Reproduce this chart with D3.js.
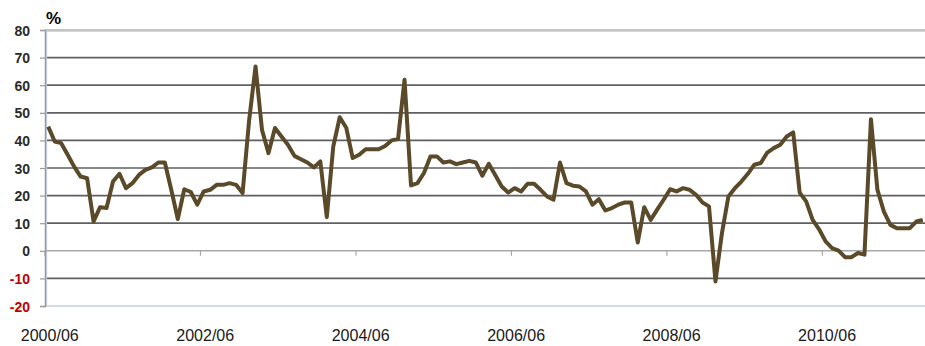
<!DOCTYPE html>
<html><head><meta charset="utf-8">
<script src="https://cdn.jsdelivr.net/npm/d3@7"></script>
<style>html,body{margin:0;padding:0;background:#fff;}svg{display:block;}</style>
</head><body>
<svg id="chart" width="925" height="346"></svg>
<script>
// Monthly values, 2000/06 .. 2011/09 (%)
const values = [
  45, 39.6, 39, 34.8, 30.5, 26.9, 26.3, 10.6, 15.8, 15.5,
  25.1, 27.9, 22.7, 24.5, 27.5, 29.3, 30.2, 32, 32, 22,
  11.5, 22.3, 21.3, 16.7, 21.5, 22.1, 23.9, 23.9, 24.5, 23.9,
  20.9, 47, 66.8, 43.8, 35.4, 44.5, 41.4, 38.4, 34.4, 33.2,
  32, 30.2, 32.4, 12.2, 37.8, 48.4, 44.6, 33.6, 34.8, 36.8,
  36.8, 36.8, 38, 40, 40.5, 62, 23.7, 24.5, 28.2, 34.2,
  34.2, 32, 32.4, 31.4, 32, 32.6, 32, 27.2, 31.5, 27.5,
  23.3, 21.1, 22.7, 21.5, 24.3, 24.3, 22.1, 19.7, 18.5, 32,
  24.5, 23.6, 23.3, 21.5, 16.7, 18.7, 14.6, 15.5, 16.7, 17.5,
  17.5, 3.0, 15.8, 11.2, 14.9, 18.5, 22.3, 21.5, 22.7, 22.1,
  20.3, 17.5, 16.1, -11.1, 6.4, 19.7, 22.7, 25.1, 27.9, 31.2,
  31.8, 35.6, 37.2, 38.4, 41.4, 42.9, 21.1, 17.9, 11.2, 7.8,
  3.4, 1.0, 0.1, -2.3, -2.3, -0.8, -1.4, 47.7, 22.1, 14.2,
  9.4, 8.2, 8.2, 8.2, 10.6, 11.2
];
const startMonth = new Date(2000, 5, 1);
const months = values.map((v, i) => d3.timeFormat("%Y/%m")(d3.timeMonth.offset(startMonth, i)));
const xTickLabels = ["2000/06", "2002/06", "2004/06", "2006/06", "2008/06", "2010/06"];
const yTicks = [-20, -10, 0, 10, 20, 30, 40, 50, 60, 70, 80];
const unitLabel = "%";

const svg = d3.select("#chart");
const pL = 45, pR = 926, pT = 30, pB = 306;

const x = d3.scaleBand().domain(months).range([pL, pR]).paddingInner(0).paddingOuter(0);
const y = d3.scaleLinear().domain([-20, 80]).range([pB, pT]);
const bw = x.bandwidth();

// gridlines
svg.append("g").selectAll("line").data(yTicks.filter(t => t !== 0 && t !== 80 && t !== -20)).join("line")
  .attr("x1", pL).attr("x2", pR)
  .attr("y1", d => y(d)).attr("y2", d => y(d))
  .attr("stroke", "#606060").attr("stroke-width", 1.7);

// plot border top / bottom
svg.append("line").attr("x1", pL).attr("x2", pR).attr("y1", y(80)).attr("y2", y(80))
  .attr("stroke", "#8a8a8a").attr("stroke-width", 1.2);
svg.append("line").attr("x1", pL).attr("x2", pR).attr("y1", y(80) + 1.5).attr("y2", y(80) + 1.5)
  .attr("stroke", "#c9d8ee").attr("stroke-width", 1.2);
svg.append("line").attr("x1", pL).attr("x2", pR).attr("y1", y(-20)).attr("y2", y(-20))
  .attr("stroke", "#d6dbe8").attr("stroke-width", 2);
svg.append("line").attr("x1", pL + 1.5).attr("x2", pL + 1.5).attr("y1", pT).attr("y2", pB)
  .attr("stroke", "#c9d8ee").attr("stroke-width", 1.2);

// zero axis line with ticks
svg.append("line").attr("x1", pL).attr("x2", pR).attr("y1", y(0)).attr("y2", y(0))
  .attr("stroke", "#a8a8a8").attr("stroke-width", 1.5);
svg.append("g").selectAll("line").data(xTickLabels).join("line")
  .attr("x1", d => x(d)).attr("x2", d => x(d))
  .attr("y1", y(0)).attr("y2", y(0) + 5)
  .attr("stroke", "#a8a8a8").attr("stroke-width", 1.2);

// y axis
const yAxis = d3.axisLeft(y).tickValues(yTicks).tickSize(5).tickFormat(d => d);
const gy = svg.append("g").attr("transform", `translate(${pL},0)`).call(yAxis);
gy.select(".domain").attr("stroke", "#9a9a9a").attr("stroke-width", 1.5);
gy.selectAll(".tick line").attr("stroke", "#9a9a9a").attr("stroke-width", 1.2);
gy.selectAll(".tick text")
  .attr("x", -15).attr("dy", "0.36em")
  .attr("font-family", "'Liberation Sans', Arial, sans-serif")
  .attr("font-size", 14).attr("font-weight", "bold")
  .attr("fill", d => d < 0 ? "#c00000" : "#2a2a2a")
  .attr("text-anchor", "end");

// unit label
svg.append("text").attr("x", 46).attr("y", 24).text(unitLabel)
  .attr("font-family", "'Liberation Sans', Arial, sans-serif")
  .attr("font-size", 17).attr("font-weight", "bold").attr("fill", "#000");

// x labels
svg.append("g").selectAll("text").data(xTickLabels).join("text")
  .attr("x", d => x(d) + bw / 2 + 1.5).attr("y", 341)
  .attr("text-anchor", "middle")
  .attr("font-family", "'Liberation Sans', Arial, sans-serif")
  .attr("font-size", 17).attr("fill", "#1a1a1a")
  .attr("textLength", 58).attr("lengthAdjust", "spacingAndGlyphs")
  .text(d => d);

// series line
const line = d3.line().x((d, i) => x(months[i]) + bw / 2).y(d => y(d)).curve(d3.curveLinear);
svg.append("path").datum(values).attr("d", line)
  .attr("fill", "none").attr("stroke", "#5a4a2a").attr("stroke-width", 4)
  .attr("stroke-linejoin", "round").attr("stroke-linecap", "butt");
</script>
</body></html>
